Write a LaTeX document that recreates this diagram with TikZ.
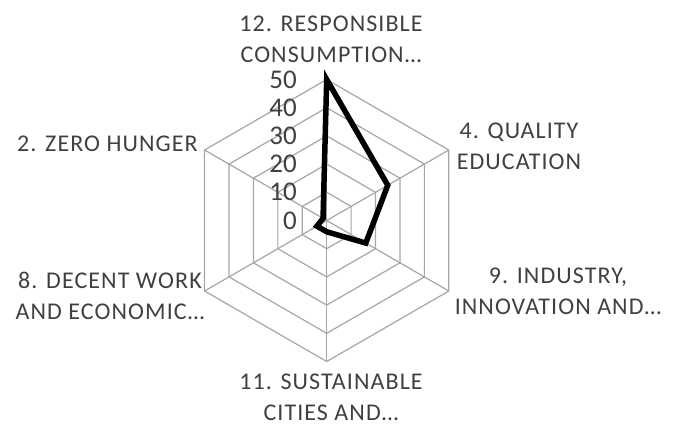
\documentclass[tikz,border=0pt]{standalone}
\usepackage{fontspec}
\setmainfont{Carlito}
\newfontfamily\catfont[LetterSpace=4.5]{Carlito}
\definecolor{txtgray}{RGB}{64,64,64}
\definecolor{gridgray}{RGB}{166,166,166}

\begin{document}
\begin{tikzpicture}[x=1pt, y=1pt,
	gridline/.style={draw=gridgray, line width=1.2pt},
	series/.style={draw=black, line width=5.5pt},
	catlabel/.style={text=txtgray, align=center, inner sep=0pt,
		font=\fontsize{24}{31}\selectfont\catfont},
	ticklabel/.style={text=txtgray, anchor=east, inner sep=0pt,
		font=\fontsize{27}{30}\selectfont}]
	% Parameters
	\def\R{141}        % radius of outer hexagon
	\def\ring{28.2}    % distance between two rings
	\def\sc{2.82}      % pt per unit of value
	
	\useasboundingbox (-326.7,-205.5) rectangle (355.3,220.5);
	
	% Draw hexagon rings
	\foreach \k in {1,...,5}{
		\draw[gridline] (90:{\k*\ring}) \foreach \a in {30,-30,-90,-150,150}{ -- (\a:{\k*\ring})} -- cycle;
	}
	
	% Draw spokes
	\foreach \a in {90,30,-30,-90,-150,150}
		\draw[gridline] (0,0) -- (\a:\R);
	
	% Axis values
	\foreach \v [count=\k from 0] in {0,10,20,30,40,50}
		\node[ticklabel] (t\v) at (-29.7,{\k*\ring}) {\v};
	
	% Data line
	\draw[series] (90:{50*\sc}) -- (30:{25*\sc}) -- (-30:{16*\sc})
		-- (-90:{4*\sc}) -- (-150:{4*\sc}) -- (150:{1.5*\sc}) -- cycle;
	
	% Category labels
	\node[catlabel] (sdg12) at (4.3,181) {12. RESPONSIBLE\\CONSUMPTION…};
	\node[catlabel] (sdg4) at (192.3,74) {4. QUALITY\\EDUCATION};
	\node[catlabel] (sdg9) at (231.3,-71) {9. INDUSTRY,\\INNOVATION AND…};
	\node[catlabel] (sdg11) at (4.3,-176.5) {11. SUSTAINABLE\\CITIES AND…};
	\node[catlabel] (sdg8) at (-216.7,-75.5) {8. DECENT WORK\\AND ECONOMIC…};
	\node[catlabel] (sdg2) at (-219.2,76.5) {2. ZERO HUNGER};
	
\end{tikzpicture}
\end{document}
